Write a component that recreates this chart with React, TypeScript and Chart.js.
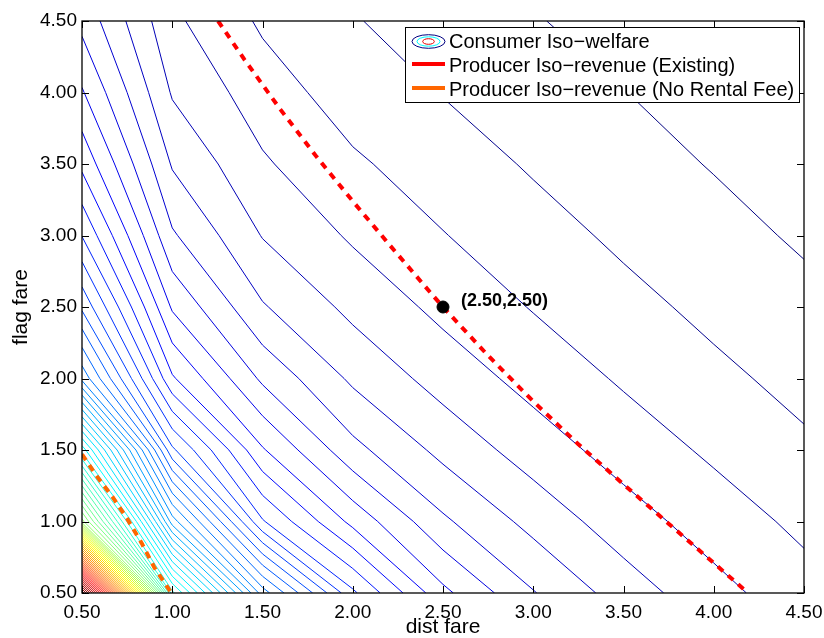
import React, { useEffect, useRef } from 'react';
import { Chart, registerables } from 'chart.js';

Chart.register(...registerables);

const FONT = '"Liberation Sans", Arial, Helvetica, sans-serif';

// grid of fares on which consumer welfare was evaluated
const distFareGrid = [0.5, 1.0, 1.5, 2.0, 2.5, 3.0, 3.5, 4.0, 4.5];
const flagFareGrid = [0.5, 1.0, 1.5, 2.0, 2.5, 3.0, 3.5, 4.0, 4.5];

// consumer welfare (in contour-level units), one row per flag fare, columns = dist fare
const welfareFlag050 = [77, 31.3, 19.5, 13.2, 9.25, 7.06, 5.53, 4.34, 3.4];
const welfareFlag100 = [40.4, 21.5, 13.1, 9.7, 7.17, 5.67, 4.45, 3.53, 2.76];
const welfareFlag150 = [29.6, 15.2, 10.1, 7.3, 5.71, 4.52, 3.58, 2.82, 2.17];
const welfareFlag200 = [19.7, 11.13, 7.8, 5.81, 4.59, 3.65, 2.87, 2.23, 1.7];
const welfareFlag250 = [15.8, 8.86, 6.09, 4.73, 3.73, 2.94, 2.3, 1.75, 1.28];
const welfareFlag300 = [12.96, 7.13, 4.95, 3.86, 3.04, 2.39, 1.81, 1.34, 0.86];
const welfareFlag350 = [10.75, 5.9, 4.13, 3.15, 2.49, 1.89, 1.4, 0.94, 0.52];
const welfareFlag400 = [9.1, 4.9, 3.47, 2.53, 1.96, 1.48, 1.02, 0.57, 0.2];
const welfareFlag450 = [7.7, 4.2, 2.85, 2.06, 1.56, 1.07, 0.6, 0.2, -0.15];
const welfareGrid = [
  welfareFlag050, welfareFlag100, welfareFlag150, welfareFlag200, welfareFlag250,
  welfareFlag300, welfareFlag350, welfareFlag400, welfareFlag450,
];

// iso-welfare contour levels
const welfareLevels = [
  1, 2, 3, 4, 5, 6, 7, 8, 9, 10, 11, 12, 13, 14, 15, 16, 17, 18, 19, 20,
  21, 22, 23, 24, 25, 26, 27, 28, 29, 30, 31, 32, 33, 34, 35, 36, 37, 38, 39, 40,
  41, 42, 43, 44, 45, 46, 47, 48, 49, 50, 51, 52, 53, 54, 55, 56, 57, 58, 59, 60,
  61, 62, 63, 64, 65, 66, 67, 68, 69, 70, 71, 72, 73, 74, 75, 76,
];

// producer iso-revenue, existing
const existingDist = [1.254, 1.4, 1.6, 1.8, 2.0, 2.2, 2.4, 2.5, 2.75, 3.0, 3.25, 3.5, 3.75, 4.0, 4.19];
const existingFlag = [4.5, 4.23, 3.88, 3.55, 3.24, 2.94, 2.645, 2.5, 2.16, 1.84, 1.54, 1.26, 0.985, 0.71, 0.5];

// producer iso-revenue, no rental fee
const noFeeDist = [0.5, 0.58, 0.67, 0.75, 0.83, 0.9, 0.995];
const noFeeFlag = [1.47, 1.32, 1.17, 1.02, 0.85, 0.68, 0.5];

const currentPointDist = [2.5];
const currentPointFlag = [2.5];
const currentPointLabel = '(2.50,2.50)';

const xTickValues = [0.5, 1.0, 1.5, 2.0, 2.5, 3.0, 3.5, 4.0, 4.5];
const yTickValues = [0.5, 1.0, 1.5, 2.0, 2.5, 3.0, 3.5, 4.0, 4.5];

const xTitle = 'dist fare';
const yTitle = 'flag fare';
const legendLabels = [
  'Consumer Iso\u2212welfare',
  'Producer Iso\u2212revenue (Existing)',
  'Producer Iso\u2212revenue (No Rental Fee)',
];

const jetColor = (t: number) => {
  const c = (v: number) => Math.round(255 * Math.max(0, Math.min(1, v)));
  return `rgb(${c(1.5 - Math.abs(4 * t - 3))},${c(1.5 - Math.abs(4 * t - 2))},${c(1.5 - Math.abs(4 * t - 1))})`;
};

type Pt = [number, number];

function traceLevel(level: number): Pt[][] {
  const segs: Pt[][] = [];
  const nx = distFareGrid.length;
  const ny = flagFareGrid.length;
  for (let j = 0; j < ny - 1; j++) {
    for (let i = 0; i < nx - 1; i++) {
      const x0 = distFareGrid[i], x1 = distFareGrid[i + 1];
      const y0 = flagFareGrid[j], y1 = flagFareGrid[j + 1];
      const z00 = welfareGrid[j][i], z10 = welfareGrid[j][i + 1];
      const z01 = welfareGrid[j + 1][i], z11 = welfareGrid[j + 1][i + 1];
      const pts: Pt[] = [];
      const edge = (xa: number, ya: number, za: number, xb: number, yb: number, zb: number) => {
        if ((za >= level) !== (zb >= level)) {
          const t = (level - za) / (zb - za);
          pts.push([xa + t * (xb - xa), ya + t * (yb - ya)]);
        }
      };
      edge(x0, y0, z00, x1, y0, z10);
      edge(x1, y0, z10, x1, y1, z11);
      edge(x0, y1, z01, x1, y1, z11);
      edge(x0, y0, z00, x0, y1, z01);
      if (pts.length === 2) segs.push([pts[0], pts[1]]);
      else if (pts.length === 4) {
        segs.push([pts[0], pts[1]]);
        segs.push([pts[2], pts[3]]);
      }
    }
  }
  const key = (p: Pt) => p[0].toFixed(7) + '_' + p[1].toFixed(7);
  const ends = new Map<string, number[]>();
  segs.forEach((s, idx) => {
    s.forEach((p) => {
      const k = key(p);
      if (!ends.has(k)) ends.set(k, []);
      ends.get(k)!.push(idx);
    });
  });
  const used = segs.map(() => false);
  const lines: Pt[][] = [];
  for (let s = 0; s < segs.length; s++) {
    if (used[s]) continue;
    used[s] = true;
    const line: Pt[] = [segs[s][0], segs[s][1]];
    let grow = true;
    while (grow) {
      grow = false;
      const tail = line[line.length - 1];
      for (const c of ends.get(key(tail)) || []) {
        if (!used[c]) {
          used[c] = true;
          const sg = segs[c];
          line.push(key(sg[0]) === key(tail) ? sg[1] : sg[0]);
          grow = true;
          break;
        }
      }
    }
    grow = true;
    while (grow) {
      grow = false;
      const head = line[0];
      for (const c of ends.get(key(head)) || []) {
        if (!used[c]) {
          used[c] = true;
          const sg = segs[c];
          line.unshift(key(sg[0]) === key(head) ? sg[1] : sg[0]);
          grow = true;
          break;
        }
      }
    }
    lines.push(line);
  }
  return lines;
}

const decorPlugin = {
  id: 'matlabDecor',
  afterDatasetsDraw(chart: any) {
    const { ctx, chartArea, scales } = chart;
    const { left, right, top, bottom } = chartArea;
    const xs = scales.x;
    const ys = scales.y;
    ctx.save();
    // frame
    ctx.strokeStyle = '#000';
    ctx.lineWidth = 1.3;
    ctx.strokeRect(left, top, right - left, bottom - top);
    // inward ticks on all sides
    ctx.lineWidth = 1;
    ctx.beginPath();
    xTickValues.forEach((v) => {
      const px = Math.round(xs.getPixelForValue(v)) + 0.5;
      ctx.moveTo(px, bottom);
      ctx.lineTo(px, bottom - 7);
      ctx.moveTo(px, top);
      ctx.lineTo(px, top + 7);
    });
    yTickValues.forEach((v) => {
      const py = Math.round(ys.getPixelForValue(v)) + 0.5;
      ctx.moveTo(left, py);
      ctx.lineTo(left + 7, py);
      ctx.moveTo(right, py);
      ctx.lineTo(right - 7, py);
    });
    ctx.stroke();

    // point label
    ctx.fillStyle = '#000';
    ctx.font = `bold 18px ${FONT}`;
    ctx.textAlign = 'left';
    ctx.textBaseline = 'alphabetic';
    ctx.fillText(
      currentPointLabel,
      xs.getPixelForValue(currentPointDist[0]) + 18,
      ys.getPixelForValue(currentPointFlag[0]) - 1
    );

    // legend
    const bx = 405, by = 27, bw = 394, bh = 75;
    ctx.fillStyle = '#fff';
    ctx.fillRect(bx, by, bw, bh);
    ctx.strokeStyle = '#000';
    ctx.lineWidth = 1;
    ctx.strokeRect(bx + 0.5, by + 0.5, bw, bh);
    const rowsBase = [48, 72, 96];
    const iconX0 = 412, iconX1 = 445;
    const ecx = (iconX0 + iconX1) / 2, ecy = rowsBase[0] - 6.5;
    const ell = (rx: number, ry: number, col: string) => {
      ctx.beginPath();
      ctx.ellipse(ecx, ecy, rx, ry, 0, 0, Math.PI * 2);
      ctx.strokeStyle = col;
      ctx.lineWidth = 1;
      ctx.stroke();
    };
    ell(16.5, 6.8, jetColor(0));
    ell(11.5, 4.7, jetColor(0.37));
    ell(5.8, 2.8, jetColor(0.9));
    ctx.lineWidth = 4;
    ctx.strokeStyle = '#ff0000';
    ctx.beginPath();
    ctx.moveTo(iconX0, rowsBase[1] - 8);
    ctx.lineTo(iconX1, rowsBase[1] - 8);
    ctx.stroke();
    ctx.strokeStyle = '#ff6600';
    ctx.beginPath();
    ctx.moveTo(iconX0, rowsBase[2] - 8);
    ctx.lineTo(iconX1, rowsBase[2] - 8);
    ctx.stroke();
    ctx.fillStyle = '#000';
    ctx.font = `20px ${FONT}`;
    legendLabels.forEach((t, k) => ctx.fillText(t, 449, rowsBase[k]));
    ctx.restore();
  },
};

export default function App() {
  const canvasRef = useRef<HTMLCanvasElement | null>(null);

  useEffect(() => {
    if (!canvasRef.current) return;
    const lo = welfareLevels[0];
    const hi = welfareLevels[welfareLevels.length - 1];
    const contourSets = welfareLevels.map((level) => {
      const data: { x: number; y: number | null }[] = [];
      traceLevel(level).forEach((line) => {
        line.forEach(([px, py]) => data.push({ x: px, y: py }));
        data.push({ x: line[line.length - 1][0], y: null });
      });
      return {
        type: 'scatter' as const,
        label: `welfare ${level}`,
        data,
        showLine: true,
        spanGaps: false,
        pointRadius: 0,
        borderWidth: 1,
        borderColor: jetColor((level - lo) / (hi - lo)),
        order: 10,
        clip: 0,
      };
    });

    const chart = new Chart(canvasRef.current, {
      type: 'scatter',
      data: {
        datasets: [
          ...contourSets,
          {
            type: 'scatter',
            label: legendLabels[1],
            data: existingDist.map((x, k) => ({ x, y: existingFlag[k] })),
            showLine: true,
            pointRadius: 0,
            borderColor: '#ff0000',
            borderWidth: 4,
            borderDash: [7, 6.5],
            borderCapStyle: 'butt',
            order: 2,
            clip: 0,
          },
          {
            type: 'scatter',
            label: legendLabels[2],
            data: noFeeDist.map((x, k) => ({ x, y: noFeeFlag[k] })),
            showLine: true,
            pointRadius: 0,
            borderColor: '#ff6600',
            borderWidth: 4,
            borderDash: [7, 6],
            borderCapStyle: 'butt',
            order: 2,
            clip: 0,
          },
          {
            type: 'scatter',
            label: 'current',
            data: currentPointDist.map((x, k) => ({ x, y: currentPointFlag[k] })),
            pointRadius: 6,
            pointBackgroundColor: '#000',
            pointBorderColor: '#000',
            pointBorderWidth: 1,
            showLine: false,
            order: 0,
          },
        ] as any,
      },
      options: {
        responsive: false,
        animation: false,
        events: [],
        layout: { padding: { left: 0, right: 20, top: 21, bottom: 0 } },
        plugins: { legend: { display: false }, tooltip: { enabled: false } },
        scales: {
          x: {
            type: 'linear',
            position: 'bottom',
            min: 0.5,
            max: 4.5,
            afterBuildTicks: (s: any) => {
              s.ticks = xTickValues.map((v) => ({ value: v }));
            },
            afterFit: (s: any) => {
              s.height = 45;
              s.paddingLeft = 0;
              s.paddingRight = 0;
            },
            ticks: {
              callback: (v: any) => Number(v).toFixed(2),
              font: { size: 19, family: FONT },
              color: '#000',
              padding: 8,
              maxRotation: 0,
              autoSkip: false,
            },
            grid: { display: false, drawTicks: false },
            border: { display: false },
            title: {
              display: true,
              text: xTitle,
              font: { size: 21, family: FONT },
              color: '#000',
              padding: { top: 0, bottom: -2 },
            },
          },
          y: {
            type: 'linear',
            position: 'left',
            min: 0.5,
            max: 4.5,
            afterBuildTicks: (s: any) => {
              s.ticks = yTickValues.map((v) => ({ value: v }));
            },
            afterFit: (s: any) => {
              s.width = 82;
              s.paddingTop = 0;
              s.paddingBottom = 0;
            },
            ticks: {
              callback: (v: any) => Number(v).toFixed(2),
              font: { size: 19, family: FONT },
              color: '#000',
              padding: 5,
              autoSkip: false,
            },
            grid: { display: false, drawTicks: false },
            border: { display: false },
            title: {
              display: true,
              text: yTitle,
              font: { size: 21, family: FONT },
              color: '#000',
              padding: { top: 9, bottom: 0 },
            },
          },
        },
      } as any,
      plugins: [decorPlugin],
    });
    return () => chart.destroy();
  }, []);

  return (
    <div style={{ position: 'fixed', left: 0, top: 0, width: 824, height: 638, background: '#fff' }}>
      <canvas ref={canvasRef} width={824} height={638} style={{ display: 'block' }} />
    </div>
  );
}
